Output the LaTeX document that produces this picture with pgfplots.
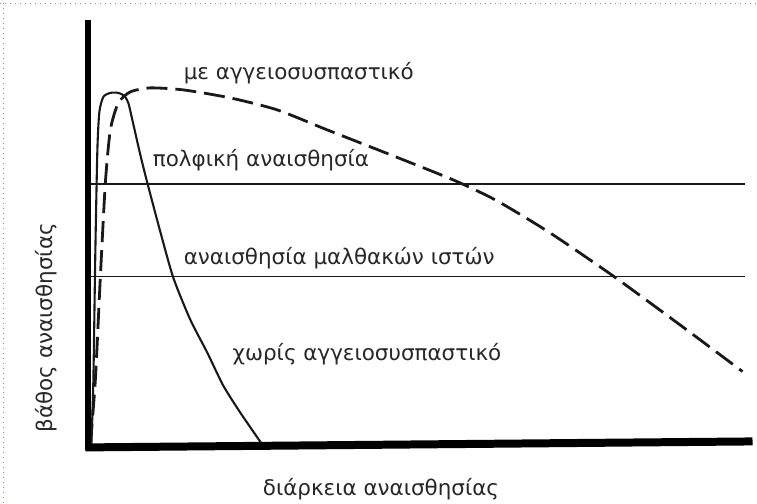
\documentclass[border=0pt]{standalone}
\usepackage{fontspec}
\setmainfont{DejaVu Sans}
\usepackage{pgfplots}
\pgfplotsset{compat=1.18}
\definecolor{ink}{RGB}{25,25,25}
\definecolor{txt}{RGB}{40,40,40}
\definecolor{dotb}{RGB}{120,150,210}

\begin{document}
\begin{tikzpicture}
\begin{axis}[
  width=757pt, height=504pt, scale only axis,
  xmin=0, xmax=757, ymin=0, ymax=504, y dir=reverse,
  hide axis, clip=false,
]
% background and page border
\fill[white] (axis cs:0,0) rectangle (axis cs:757,504);
\draw[dotb, line width=1pt, dash pattern=on 1pt off 4pt] (axis cs:0,3) -- (axis cs:757,3);
\draw[dotb, line width=1pt, dash pattern=on 1pt off 4pt] (axis cs:3,3) -- (axis cs:3,504);

% thresholds
\addplot[ink, line width=1.7pt] coordinates {(85,184)(745,184)};
\addplot[ink, line width=1.7pt] coordinates {(85,277)(745,277)};

% without vasoconstrictor
\addplot[ink, line width=2.1pt, smooth, tension=0.4] coordinates {
 (91,445)(93,380)(95,250)(97,150)(99,112)(103,97)(110,93)(118,93)
 (124,96)(128,103)(132,120)(140,155)(147,183)(160,232)(173,278)
 (190,320)(207,353)(223,386)(240,413)(262,445)};

% with vasoconstrictor
\addplot[ink, line width=2.8pt, smooth, tension=0.4, dash pattern=on 21pt off 8pt] coordinates {
 (90,445)(95,380)(100,277)(105,183)(110,130)(118,103)(130,92)(150,88)
 (183,90)(230,98)(277,110)(327,130)(383,152)(453,180)(497,201)
 (550,233)(613,276)(680,325)(743,372)};

% axes
\addplot[black, line width=6pt] coordinates {(88,20)(88,451)};
\addplot[black, line width=8pt] coordinates {(85,448)(753,442)};

% labels
\node[txt, anchor=west, font=\fontsize{21.5}{24}\selectfont] at (axis cs:180,73) {με αγγειοσυσπαστικό};
\node[txt, anchor=west, font=\fontsize{21.5}{24}\selectfont] at (axis cs:149,160) {πολφική αναισθησία};
\node[txt, anchor=west, font=\fontsize{21.5}{24}\selectfont] at (axis cs:180,258) {αναισθησία μαλθακών ιστών};
\node[txt, anchor=west, font=\fontsize{21.5}{24}\selectfont] at (axis cs:229,355) {χωρίς αγγειοσυσπαστικό};
\node[txt, font=\fontsize{21.5}{24}\selectfont] at (axis cs:381,490) {διάρκεια αναισθησίας};
\node[txt, rotate=90, font=\fontsize{21.5}{24}\selectfont] at (axis cs:46,328) {βάθος αναισθησίας};
\end{axis}
\end{tikzpicture}
\end{document}
